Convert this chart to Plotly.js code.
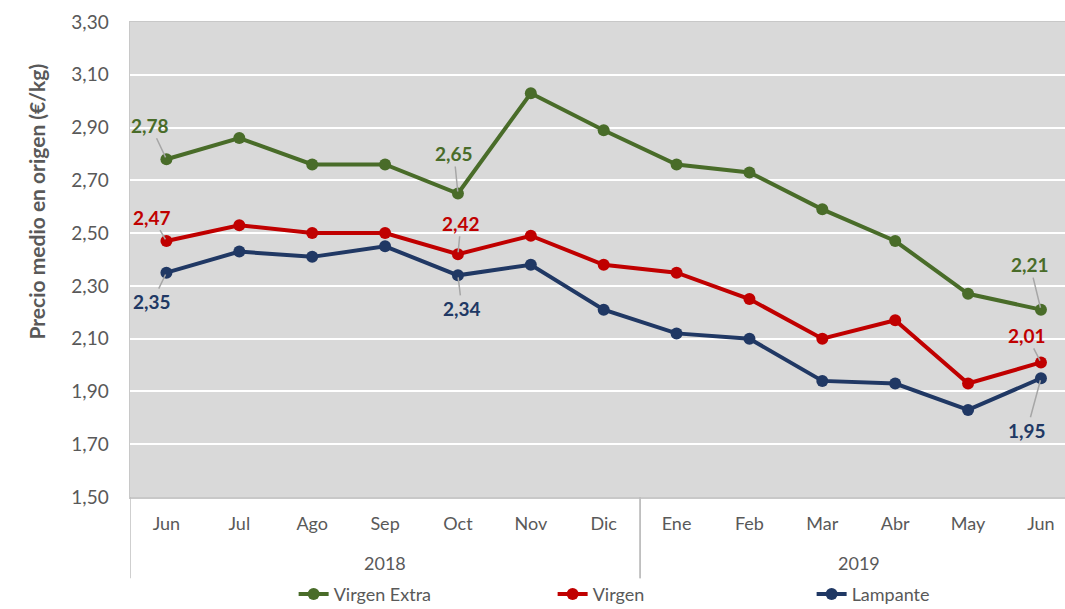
<!DOCTYPE html>
<html>
<head>
<meta charset="utf-8">
<script src="https://cdn.plot.ly/plotly-3.0.1.min.js"></script>
<style>html,body{margin:0;padding:0;background:#fff;}#chart{width:1065px;height:609px;}</style>
</head>
<body>
<div id="chart"></div>
<script>
const months = ['Jun','Jul','Ago','Sep','Oct','Nov','Dic','Ene','Feb','Mar','Abr','May','Jun'];
const years = ['2018','2018','2018','2018','2018','2018','2018','2019','2019','2019','2019','2019','2019'];
const virgenExtra = [2.78,2.86,2.76,2.76,2.65,3.03,2.89,2.76,2.73,2.59,2.47,2.27,2.21];
const virgen      = [2.47,2.53,2.50,2.50,2.42,2.49,2.38,2.35,2.25,2.10,2.17,1.93,2.01];
const lampante    = [2.35,2.43,2.41,2.45,2.34,2.38,2.21,2.12,2.10,1.94,1.93,1.83,1.95];
const seriesNames = ['Virgen Extra','Virgen','Lampante'];
const labeledIdx = [0,4,12];

const colors = ['#496c29','#c00000','#203864'];
const FONT = 'Lato, "Open Sans", "DejaVu Sans", sans-serif';
const idx = months.map((m,i)=>i);
const allSeries = [virgenExtra, virgen, lampante];

const traces = allSeries.map((vals,s)=>({
  x: idx, y: vals, name: seriesNames[s], type:'scatter', mode:'lines+markers',
  line:{color:colors[s], width:4}, marker:{color:colors[s], size:12}
}));

// label offsets (px) for data labels
const offsets = [
  [[-16,-34],[-4,-40],[-11,-45]],
  [[-14,-24],[3,-31],[-14,-27]],
  [[-14,29],[4,33],[-14,52]]
];
const annotations = [];
allSeries.forEach((vals,s)=>{
  labeledIdx.forEach((i,k)=>{
    annotations.push({
      x:i, y:vals[i], xref:'x', yref:'y',
      text: vals[i].toFixed(2).replace('.',','),
      showarrow:true, arrowhead:0, arrowwidth:1.5, arrowcolor:'#a6a6a6',
      ax:offsets[s][k][0], ay:offsets[s][k][1], standoff:2,
      font:{family:FONT, size:19, color:colors[s], weight:'bold'}
    });
  });
});
// year group labels and dividers
const uniqYears = [...new Set(years)];
const shapes = [];
uniqYears.forEach(yr=>{
  const ids = idx.filter(i=>years[i]===yr);
  const first = ids[0], last = ids[ids.length-1];
  annotations.push({x:(first+last)/2, y:-0.139, xref:'x', yref:'paper', text:yr, showarrow:false,
    yanchor:'middle', font:{family:FONT, size:18, color:'#595959'}});
  shapes.push({type:'line', xref:'x', yref:'paper', x0:first-0.5, x1:first-0.5, y0:0, y1:-0.171,
    line:{color:'#bfbfbf', width:1.5}});
  shapes.push({type:'line', xref:'x', yref:'paper', x0:last+0.5, x1:last+0.5, y0:0, y1:-0.171,
    line:{color:'#bfbfbf', width:1.5}});
});
annotations.push({x:-0.1155, y:0.621, xref:'paper', yref:'paper', text:'Precio medio en origen (€/kg)',
  showarrow:false, textangle:-90, font:{family:FONT, size:21, color:'#595959', weight:'bold'}});

const layout = {
  width:1065, height:609,
  margin:{l:130, r:0, t:22, b:112, autoexpand:false},
  paper_bgcolor:'#ffffff', plot_bgcolor:'#d9d9d9',
  separators:',.',
  font:{family:FONT, color:'#595959'},
  xaxis:{range:[-0.5,12.33], tickmode:'array', tickvals:idx, ticktext:months,
    showgrid:false, zeroline:false, ticks:'', ticklabelstandoff:10,
    showline:true, mirror:true, linecolor:'#c8c8c8', linewidth:1.5,
    tickfont:{family:FONT, size:18, color:'#595959'}},
  yaxis:{range:[1.5,3.3], tick0:1.5, dtick:0.2, tickformat:'.2f',
    showgrid:true, gridcolor:'#ffffff', gridwidth:2, zeroline:false, ticks:'',
    ticklabelstandoff:16, showline:true, linecolor:'#c8c8c8', linewidth:1.5,
    tickfont:{family:FONT, size:19, color:'#595959'}},
  showlegend:true,
  legend:{orientation:'h', x:0.175, xanchor:'left', y:-0.205, yanchor:'middle',
    entrywidth:214, entrywidthmode:'pixels', bgcolor:'rgba(0,0,0,0)',
    font:{family:FONT, size:18, color:'#595959'}},
  annotations:annotations, shapes:shapes
};
Plotly.newPlot('chart', traces, layout, {staticPlot:true, displayModeBar:false});
</script>
</body>
</html>
